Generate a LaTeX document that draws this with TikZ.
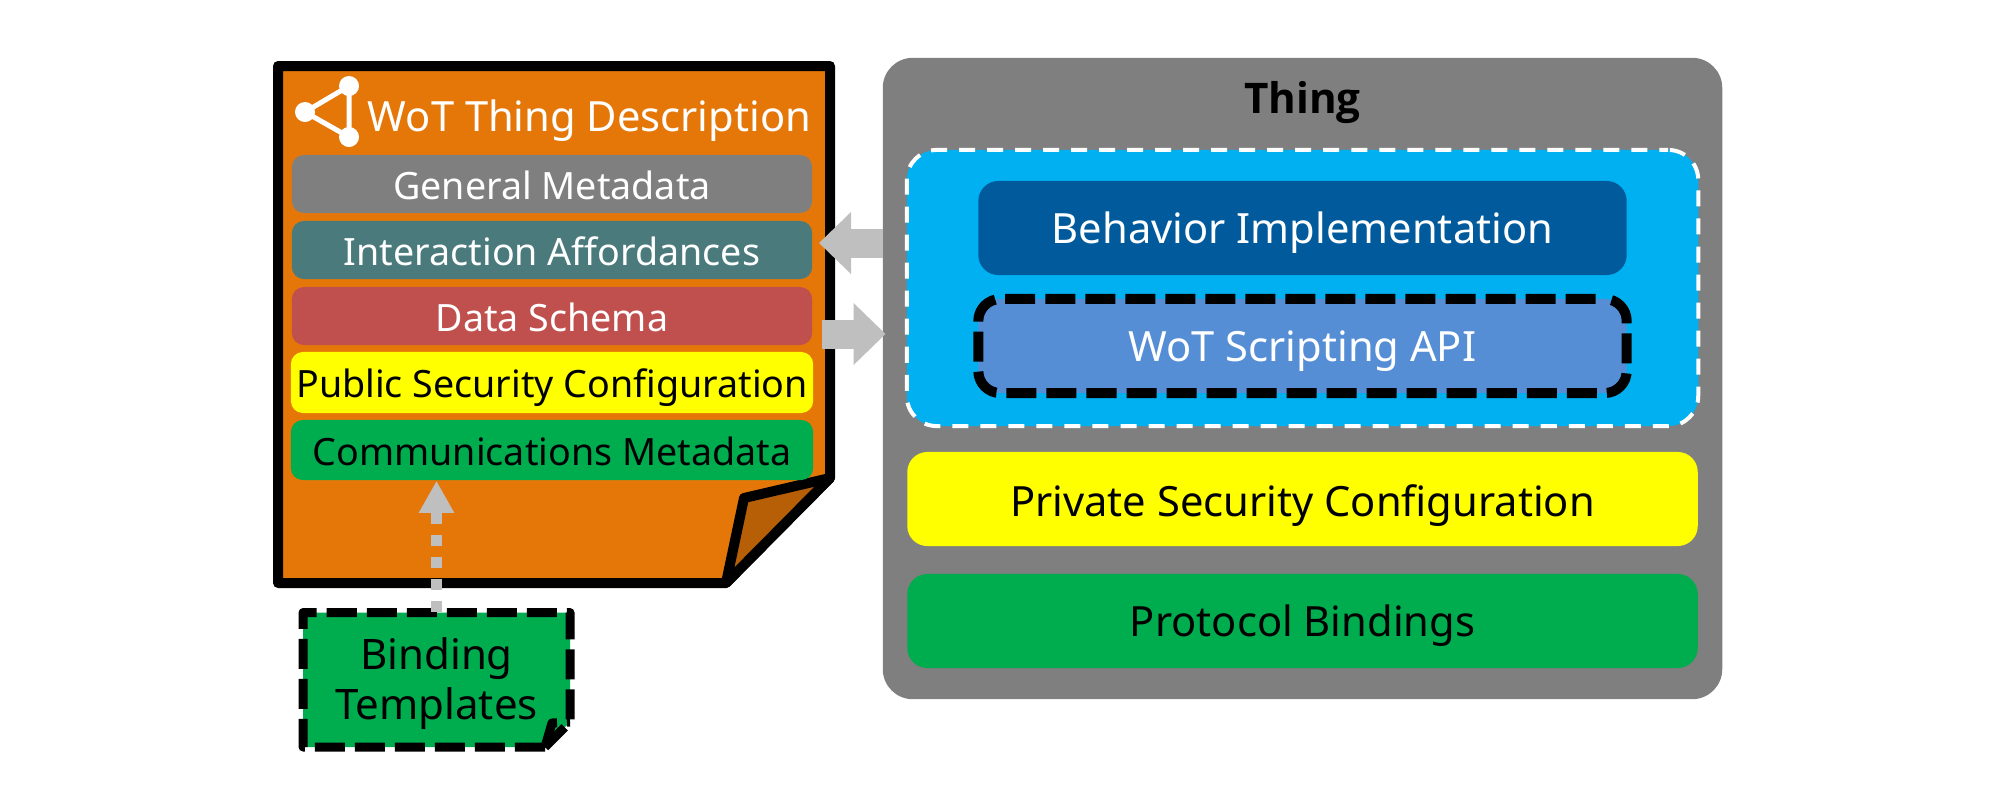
\documentclass[tikz,border=0pt]{standalone}
\usepackage{fontspec}
\setmainfont{Noto Sans}
\newfontfamily\thingfont{Open Sans}
\usetikzlibrary{arrows.meta}
\definecolor{tdorange}{HTML}{E47708}
\definecolor{tdfold}{HTML}{B65F06}
\definecolor{tdgray}{HTML}{7F7F7F}
\definecolor{tdteal}{HTML}{4A7A7C}
\definecolor{tdred}{HTML}{C0504D}
\definecolor{tdyellow}{HTML}{FFFF00}
\definecolor{tdgreen}{HTML}{00AD4E}
\definecolor{tdblue}{HTML}{00B0F0}
\definecolor{tddark}{HTML}{005A9C}
\definecolor{tdapi}{HTML}{558ED5}
\definecolor{tdarrow}{HTML}{BFBFBF}
\tikzset{
    bar/.style={rounded corners=0.12cm,inner sep=0,text height=0.32cm,text depth=0.02cm,font=\fontsize{10.7pt}{12pt}\selectfont},
    wide/.style={rounded corners=0.2cm,inner sep=0,text height=0.34cm,text depth=0.04cm,font=\fontsize{11.85pt}{13pt}\selectfont},
    blockarrow/.style={draw=tdarrow,line width=0.29cm,-{Triangle[width=0.6cm,length=0.32cm]}},
    binddash/.style={line width=0.09cm,dash pattern=on 0.3cm off 0.1cm,line join=round},
}
\begin{document}
\begin{tikzpicture}[x=0.01cm,y=-0.01cm]
    \useasboundingbox (0,0) rectangle (2000,805);

    % thing description sheet
    \draw[fill=tdorange,line width=0.1cm,line join=round](278,66)--(830,66)--(830,478)--(726,583)--(278,583)--cycle;
    \draw[fill=tdfold,line width=0.1cm,line join=round](830,478)--(744,498)--(726,583)--cycle;

    \draw[white,line width=0.05cm](349,86)--(305,112)--(349,137)--cycle;
    \fill[white](349,86)circle(0.1cm);
    \fill[white](305,112)circle(0.1cm);
    \fill[white](349,137)circle(0.1cm);
    \node[white,inner sep=0,text height=0.38cm,text depth=0.08cm,font=\fontsize{11.85pt}{13pt}\selectfont](tdtitle)at(589.5,116){WoT Thing Description};

    \node[bar,fill=tdgray,text=white,minimum width=5.2cm,minimum height=0.58cm](general)at(552,184){General Metadata};
    \node[bar,fill=tdteal,text=white,minimum width=5.2cm,minimum height=0.58cm](affordances)at(552,250){Interaction Affordances};
    \node[bar,fill=tdred,text=white,minimum width=5.2cm,minimum height=0.58cm](schema)at(552,316){Data Schema};
    \node[bar,fill=tdyellow,minimum width=5.22cm,minimum height=0.61cm](publicsec)at(552,382.5){Public Security Configuration};
    \node[bar,fill=tdgreen,minimum width=5.22cm,minimum height=0.6cm](commmeta)at(552,450){Communications Metadata};

    % thing
    \node[fill=tdgray,rounded corners=0.3cm,minimum width=8.39cm,minimum height=6.41cm,inner sep=0](thing)at(1302.5,378.5){};
    \node[inner sep=0,text height=0.3cm,text depth=0cm,font=\fontsize{12pt}{13pt}\thingfont\bfseries](thinglabel)at(1302.5,98){Thing};
    \node[fill=tdblue,draw=white,line width=0.04cm,dash pattern=on 0.16cm off 0.12cm,dash phase=0.072cm,rounded corners=0.3cm,minimum width=7.91cm,minimum height=2.76cm,inner sep=0](runtime)at(1302.5,288){};
    \node[wide,fill=tddark,text=white,minimum width=6.48cm,minimum height=0.94cm](behavior)at(1302.5,228){Behavior Implementation};
    \node[wide,fill=tdapi,text=white,draw=black,line width=0.1cm,dash pattern=on 0.3cm off 0.1cm,dash phase=0.309cm,rounded corners=0.22cm,minimum width=6.48cm,minimum height=0.94cm](scripting)at(1302.5,346){WoT Scripting API};
    \node[wide,fill=tdyellow,text height=0.39cm,minimum width=7.9cm,minimum height=0.94cm](privatesec)at(1302.5,499){Private Security Configuration};
    \node[wide,fill=tdgreen,minimum width=7.9cm,minimum height=0.94cm](bindings)at(1302.5,621){Protocol Bindings};

    % arrows between both
    \coordinate(outleft)at(883,243);
    \coordinate(inleft)at(819,243);
    \coordinate(outright)at(822,334);
    \coordinate(inright)at(885.6,334);
    \draw[blockarrow](outleft)--(inleft);
    \draw[blockarrow](outright)--(inright);

    % binding templates
    \draw[binddash,fill=tdgreen](545,747)--(303,747)--(303,612.5)--(570,612.5)--(570,722)--cycle;
    \draw[binddash](545,747)--(552,723)--(570,722);
    \node[align=center,inner sep=0,font=\fontsize{11.95pt}{14.2pt}\selectfont,minimum width=2.67cm,minimum height=1.43cm](binding)at(436.5,684){Binding\\Templates};
    \draw[tdarrow,line width=0.11cm,dash pattern=on 0.11cm off 0.11cm,-{Triangle[width=0.33cm,length=0.32cm]}](binding.north)--(commmeta.south -| binding.north);
\end{tikzpicture}
\end{document}
